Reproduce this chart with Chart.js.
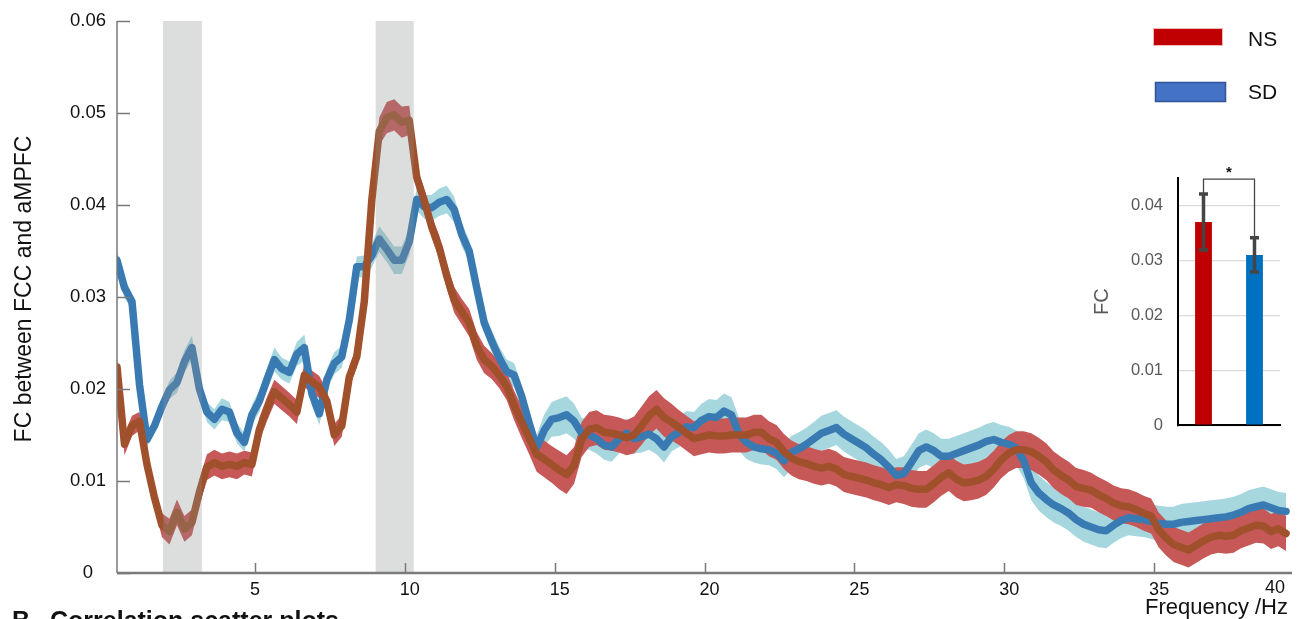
<!DOCTYPE html>
<html>
<head>
<meta charset="utf-8">
<script src="https://cdn.jsdelivr.net/npm/chart.js@4/dist/chart.umd.min.js"></script>
<style>
  html, body { margin: 0; padding: 0; background: #fff; overflow: hidden; }
  #wrap { position: relative; width: 1300px; height: 619px; }
  #main { position: absolute; left: 0; top: 0; }
  #inset { position: absolute; left: 1080px; top: 150px; }
</style>
</head>
<body>
<div id="wrap">
  <canvas id="main" width="1300" height="619"></canvas>
  <canvas id="inset" width="220" height="300"></canvas>
</div>
<script>
// frequency grid: first bin and spacing (Hz)
const F0 = 0.4;
const DF = 0.25;

// mean FC, NS group
const ns = [
  0.0224, 0.014, 0.016, 0.0165, 0.0118, 0.0082, 0.0052, 0.0045, 0.0066, 0.0048,
  0.0055, 0.0088, 0.0115, 0.012, 0.0116, 0.0118, 0.0116, 0.012, 0.0118, 0.0156,
  0.0178, 0.0197, 0.019, 0.0183, 0.0175, 0.0215, 0.0208, 0.0202, 0.0187, 0.015,
  0.016, 0.0213, 0.0235, 0.0295, 0.0405, 0.048, 0.0495, 0.0498, 0.049, 0.0492,
  0.043, 0.0405, 0.0376, 0.0354, 0.0323, 0.0297, 0.0284, 0.0272, 0.0247, 0.0232,
  0.0225, 0.0215, 0.0203, 0.0182, 0.0164, 0.0147, 0.0129, 0.0124, 0.0118, 0.0112,
  0.0107, 0.0117, 0.0145, 0.0156, 0.0158, 0.0153, 0.0152, 0.015, 0.0147, 0.015,
  0.016, 0.0171, 0.0178, 0.0169, 0.0164, 0.0158, 0.0152, 0.0146, 0.0148, 0.015,
  0.0149, 0.0149, 0.015, 0.015, 0.015, 0.0153, 0.0153, 0.0146, 0.0142, 0.0132,
  0.0125, 0.0121, 0.0119, 0.0116, 0.0114, 0.0116, 0.0113, 0.0107, 0.0105, 0.0103,
  0.0101, 0.0098, 0.0096, 0.0093, 0.0096, 0.0095, 0.0092, 0.0091, 0.0091, 0.0097,
  0.0104, 0.0109, 0.0102, 0.0098, 0.0099, 0.0101, 0.0105, 0.0113, 0.0123, 0.013,
  0.0134, 0.0134, 0.0132, 0.0127, 0.0121, 0.0112, 0.0106, 0.0101, 0.0094, 0.0092,
  0.009, 0.0085, 0.0081, 0.0076, 0.0073, 0.0072, 0.0069, 0.0065, 0.0062, 0.0047,
  0.0038, 0.0031, 0.0028, 0.0025, 0.003, 0.0035, 0.0039, 0.0041, 0.004, 0.0041,
  0.0046, 0.0049, 0.0052, 0.0051, 0.0045, 0.0048, 0.0043
];

// mean FC, SD group
const sd = [
  0.034, 0.031, 0.0295, 0.0205, 0.0145, 0.016, 0.0181, 0.0199, 0.0207, 0.023,
  0.0245, 0.02, 0.0175, 0.0167, 0.0178, 0.0175, 0.0152, 0.0142, 0.0172, 0.0187,
  0.021, 0.0232, 0.0222, 0.0218, 0.0238, 0.0245, 0.0195, 0.0173, 0.021, 0.0228,
  0.0235, 0.0275, 0.0333, 0.0333, 0.0345, 0.0363, 0.0352, 0.034, 0.034, 0.036,
  0.0406, 0.0398, 0.0397, 0.0403, 0.0406, 0.0395, 0.0368, 0.035, 0.031, 0.0272,
  0.0252, 0.0234, 0.0219, 0.0215, 0.0192, 0.0163, 0.0136, 0.0155, 0.0167, 0.0169,
  0.0172, 0.0165, 0.0152, 0.015, 0.0146, 0.0139, 0.0137, 0.0146, 0.0152, 0.0146,
  0.0148, 0.0151, 0.0146, 0.0137, 0.0148, 0.0153, 0.0159, 0.0158, 0.0166, 0.017,
  0.0169, 0.0176, 0.0172, 0.0151, 0.0142, 0.0137, 0.0135, 0.0134, 0.013, 0.0122,
  0.0131, 0.0135, 0.014, 0.0146, 0.0152, 0.0155, 0.0158, 0.0151, 0.0146, 0.0141,
  0.0136, 0.0129, 0.0123, 0.0115, 0.0106, 0.0108, 0.012, 0.0133, 0.0137, 0.0133,
  0.0127, 0.0127, 0.013, 0.0133, 0.0136, 0.0139, 0.0143, 0.0145, 0.0142, 0.014,
  0.0136, 0.0122, 0.0098, 0.0087, 0.008, 0.0074, 0.007, 0.0065, 0.0058, 0.0053,
  0.005, 0.0047, 0.0046, 0.0052, 0.0057, 0.006, 0.0059, 0.0058, 0.0056, 0.0054,
  0.0053, 0.0053, 0.0055, 0.0056, 0.0057, 0.0058, 0.0059, 0.006, 0.0061, 0.0063,
  0.0066, 0.007, 0.0072, 0.0074, 0.0071, 0.0068, 0.0067
];

// half width of the shaded error band
const nsErr = [
  0.0010, 0.0012, 0.0011, 0.0010, 0.0011, 0.0012, 0.0013, 0.0014, 0.0014, 0.0014,
  0.0014, 0.0014, 0.0014, 0.0014, 0.0014, 0.0014, 0.0014, 0.0013, 0.0013, 0.0013,
  0.0013, 0.0013, 0.0013, 0.0013, 0.0013, 0.0013, 0.0012, 0.0012, 0.0012, 0.0012,
  0.0012, 0.0012, 0.0012, 0.0012, 0.0013, 0.0015, 0.0017, 0.0017, 0.0017, 0.0016,
  0.0013, 0.0012, 0.0012, 0.0013, 0.0014, 0.0014, 0.0014, 0.0015, 0.0015, 0.0015,
  0.0014, 0.0014, 0.0015, 0.0016, 0.0017, 0.0018, 0.0019, 0.0020, 0.0020, 0.0021,
  0.0021, 0.0020, 0.0019, 0.0019, 0.0019, 0.0019, 0.0019, 0.0019, 0.0019, 0.0020,
  0.0021, 0.0021, 0.0021, 0.0021, 0.0020, 0.0019, 0.0019, 0.0019, 0.0019, 0.0019,
  0.0019, 0.0019, 0.0019, 0.0019, 0.0019, 0.0019, 0.0019, 0.0019, 0.0019, 0.0019,
  0.0019, 0.0019, 0.0019, 0.0019, 0.0019, 0.0019, 0.0019, 0.0019, 0.0019, 0.0019,
  0.0019, 0.0019, 0.0019, 0.0019, 0.0019, 0.0020, 0.0020, 0.0020, 0.0020, 0.0020,
  0.0020, 0.0020, 0.0020, 0.0020, 0.0020, 0.0020, 0.0020, 0.0020, 0.0020, 0.0020,
  0.0020, 0.0020, 0.0020, 0.0020, 0.0020, 0.0020, 0.0020, 0.0020, 0.0020, 0.0020,
  0.0019, 0.0019, 0.0019, 0.0019, 0.0019, 0.0019, 0.0019, 0.0019, 0.0019, 0.0019,
  0.0019, 0.0019, 0.0019, 0.0019, 0.0019, 0.0019, 0.0019, 0.0019, 0.0019, 0.0019,
  0.0019, 0.0019, 0.0019, 0.0019, 0.0019, 0.0019, 0.0019
];

const sdErr = [
  0.0010, 0.0011, 0.0009, 0.0008, 0.0008, 0.0008, 0.0009, 0.0010, 0.0011, 0.0012,
  0.0013, 0.0012, 0.0011, 0.0011, 0.0012, 0.0011, 0.0011, 0.0010, 0.0011, 0.0012,
  0.0012, 0.0013, 0.0012, 0.0012, 0.0013, 0.0014, 0.0013, 0.0012, 0.0012, 0.0012,
  0.0012, 0.0012, 0.0011, 0.0012, 0.0013, 0.0014, 0.0014, 0.0015, 0.0015, 0.0014,
  0.0012, 0.0013, 0.0014, 0.0015, 0.0015, 0.0014, 0.0013, 0.0012, 0.0011, 0.0011,
  0.0012, 0.0012, 0.0013, 0.0013, 0.0012, 0.0012, 0.0014, 0.0017, 0.0019, 0.0020,
  0.0020, 0.0019, 0.0017, 0.0016, 0.0016, 0.0016, 0.0016, 0.0016, 0.0016, 0.0016,
  0.0017, 0.0017, 0.0017, 0.0017, 0.0016, 0.0016, 0.0017, 0.0017, 0.0018, 0.0019,
  0.0019, 0.0019, 0.0019, 0.0018, 0.0018, 0.0017, 0.0017, 0.0017, 0.0017, 0.0018,
  0.0018, 0.0018, 0.0018, 0.0018, 0.0019, 0.0019, 0.0019, 0.0019, 0.0019, 0.0019,
  0.0019, 0.0019, 0.0019, 0.0019, 0.0018, 0.0019, 0.0019, 0.0019, 0.0019, 0.0019,
  0.0019, 0.0019, 0.0019, 0.0019, 0.0019, 0.0019, 0.0019, 0.0019, 0.0019, 0.0019,
  0.0019, 0.0019, 0.0019, 0.0019, 0.0019, 0.0019, 0.0019, 0.0019, 0.0019, 0.0019,
  0.0019, 0.0019, 0.0019, 0.0019, 0.0019, 0.0019, 0.0019, 0.0019, 0.0019, 0.0019,
  0.0019, 0.0019, 0.0020, 0.0020, 0.0020, 0.0020, 0.0020, 0.0020, 0.0020, 0.0020,
  0.0020, 0.0020, 0.0020, 0.0020, 0.0020, 0.0020, 0.0020
];

// frequency windows marked in grey (Hz)
const greyWindows = [[1.93, 3.23], [9.03, 10.3]];

const xTicks = [5, 10, 15, 20, 25, 30, 35];
const yTicks = [0, 0.01, 0.02, 0.03, 0.04, 0.05, 0.06];

// inset bar chart
const insetGroups = ['NS', 'SD'];
const insetMeans = [0.037, 0.031];
const insetLow = [0.0319, 0.0279];
const insetHigh = [0.0421, 0.0341];
const insetTicks = [0, 0.01, 0.02, 0.03, 0.04];
const sigLevel = 0.0448;

const FONT = "'Liberation Sans', Arial, sans-serif";
Chart.defaults.font.family = FONT;

const freqs = ns.map((_, i) => +(F0 + i * DF).toFixed(2));
const pts = (arr, err, sign) => arr.map((v, i) => ({ x: freqs[i], y: v + sign * err[i] }));

const bandStyle = { borderWidth: 0, pointRadius: 0, tension: 0 };
const lineStyle = { borderWidth: 7.5, pointRadius: 0, tension: 0, fill: false,
                    borderJoinStyle: 'round', borderCapStyle: 'round' };

const mainPlugin = {
    id: 'mainExtras',
    afterDatasetsDraw(chart) {
        const { ctx, chartArea: a, scales: { x } } = chart;
        ctx.save();
        ctx.fillStyle = 'rgba(138,141,141,0.3)';
        greyWindows.forEach(([f0, f1]) => {
            const x0 = x.getPixelForValue(f0);
            const x1 = x.getPixelForValue(f1);
            ctx.fillRect(x0, a.top, x1 - x0, a.bottom - a.top);
        });
        ctx.restore();
    },
    afterDraw(chart) {
        const { ctx, chartArea: a, scales: { x, y } } = chart;
        ctx.save();
        // axes with inward ticks
        ctx.strokeStyle = '#7a7a7a';
        ctx.lineWidth = 1.5;
        ctx.beginPath();
        ctx.moveTo(a.left, a.top);
        ctx.lineTo(a.left, a.bottom);
        yTicks.forEach(v => {
            const py = Math.round(y.getPixelForValue(v)) + 0.5;
            ctx.moveTo(a.left, py);
            ctx.lineTo(a.left + 13, py);
        });
        xTicks.forEach(v => {
            const px = Math.round(x.getPixelForValue(v)) + 0.5;
            ctx.moveTo(px, a.bottom);
            ctx.lineTo(px, a.bottom - 10);
        });
        ctx.stroke();
        ctx.lineWidth = 2.5;
        ctx.beginPath();
        ctx.moveTo(a.left, a.bottom);
        ctx.lineTo(a.right, a.bottom);
        ctx.stroke();

        // last tick label sits at the cropped right edge
        ctx.fillStyle = '#111';
        ctx.font = '18px ' + FONT;
        ctx.textAlign = 'left';
        ctx.textBaseline = 'middle';
        ctx.fillText('40', 1265, 588);

        // axis titles
        ctx.font = '22px ' + FONT;
        ctx.textAlign = 'right';
        ctx.textBaseline = 'alphabetic';
        ctx.fillText('Frequency /Hz', 1288, 614);

        ctx.save();
        ctx.translate(25, 289);
        ctx.rotate(-Math.PI / 2);
        ctx.font = '23px ' + FONT;
        ctx.textAlign = 'center';
        ctx.textBaseline = 'middle';
        ctx.fillText('FC between FCC and aMPFC', 0, 0);
        ctx.restore();

        // legend
        ctx.fillStyle = '#c00000';
        ctx.fillRect(1153, 28, 70, 18);
        ctx.strokeStyle = '#f2b8b8';
        ctx.lineWidth = 1;
        ctx.strokeRect(1153.5, 28.5, 69, 17);
        ctx.fillStyle = '#4472c4';
        ctx.fillRect(1155, 82, 71, 20);
        ctx.strokeStyle = '#2f5597';
        ctx.lineWidth = 1.5;
        ctx.strokeRect(1155.5, 82.5, 70, 19);
        ctx.fillStyle = '#111';
        ctx.font = '21px ' + FONT;
        ctx.textAlign = 'left';
        ctx.textBaseline = 'middle';
        ctx.fillText('NS', 1248, 40);
        ctx.fillText('SD', 1248, 93);

        // next panel caption, cropped by the bottom edge
        ctx.font = 'bold 25px ' + FONT;
        ctx.textBaseline = 'alphabetic';
        ctx.fillText('B', 12, 629);
        ctx.fillText('Correlation scatter plots', 50, 629);
        ctx.restore();
    }
};

new Chart(document.getElementById('main'), {
    type: 'line',
    data: {
        datasets: [
            { data: pts(sd, sdErr, 1), fill: '+1', backgroundColor: '#a6d6de', order: 4, ...bandStyle },
            { data: pts(sd, sdErr, -1), fill: false, order: 4, ...bandStyle },
            { data: pts(ns, nsErr, 1), fill: '+1', backgroundColor: '#c75858', order: 3, ...bandStyle },
            { data: pts(ns, nsErr, -1), fill: false, order: 3, ...bandStyle },
            { label: 'SD', data: pts(sd, sdErr, 0), borderColor: '#3a7ab2', order: 2, ...lineStyle },
            { label: 'NS', data: pts(ns, nsErr, 0), borderColor: '#a0512c', order: 1, ...lineStyle }
        ]
    },
    options: {
        responsive: false,
        animation: false,
        devicePixelRatio: 1,
        layout: { padding: { top: 21, right: 8, bottom: 0, left: 0 } },
        plugins: { legend: { display: false }, tooltip: { enabled: false } },
        scales: {
            x: {
                type: 'linear',
                min: 0.4,
                max: 39.6,
                afterBuildTicks: s => { s.ticks = xTicks.map(v => ({ value: v })); },
                afterFit: s => { s.height = 46; },
                grid: { display: false },
                border: { display: false },
                ticks: {
                    color: '#111', font: { size: 18 }, padding: -2,
                    align: 'start', labelOffset: -5, maxRotation: 0, autoSkip: false,
                    callback: v => String(v)
                }
            },
            y: {
                min: 0,
                max: 0.06,
                afterBuildTicks: s => { s.ticks = yTicks.map(v => ({ value: v })); },
                afterFit: s => { s.width = 117; },
                grid: { display: false },
                border: { display: false },
                ticks: {
                    color: '#111', font: { size: 18.5 }, padding: 3, crossAlign: 'center',
                    callback: v => (v === 0 ? '0' : v.toFixed(2))
                }
            }
        }
    },
    plugins: [mainPlugin]
});

const insetPlugin = {
    id: 'insetExtras',
    afterDatasetsDraw(chart) {
        const { ctx, scales: { y } } = chart;
        const bars = chart.getDatasetMeta(0).data;
        ctx.save();
        ctx.strokeStyle = '#454545';
        ctx.lineWidth = 3.5;
        const tops = [];
        bars.forEach((bar, i) => {
            const lo = y.getPixelForValue(insetLow[i]);
            const hi = y.getPixelForValue(insetHigh[i]);
            tops.push(hi);
            ctx.beginPath();
            ctx.moveTo(bar.x, lo);
            ctx.lineTo(bar.x, hi);
            ctx.moveTo(bar.x - 4.5, hi);
            ctx.lineTo(bar.x + 4.5, hi);
            ctx.moveTo(bar.x - 4.5, lo);
            ctx.lineTo(bar.x + 4.5, lo);
            ctx.stroke();
        });
        const yb = y.getPixelForValue(sigLevel);
        ctx.lineWidth = 1.3;
        ctx.beginPath();
        ctx.moveTo(bars[0].x, tops[0]);
        ctx.lineTo(bars[0].x, yb);
        ctx.lineTo(bars[1].x, yb);
        ctx.lineTo(bars[1].x, tops[1]);
        ctx.stroke();
        ctx.fillStyle = '#111';
        ctx.font = 'bold 15px ' + FONT;
        ctx.textAlign = 'center';
        ctx.textBaseline = 'middle';
        ctx.fillText('*', (bars[0].x + bars[1].x) / 2, yb - 6);
        ctx.restore();
    }
};

new Chart(document.getElementById('inset'), {
    type: 'bar',
    data: {
        labels: insetGroups,
        datasets: [{
            data: insetMeans,
            backgroundColor: ['#c00000', '#0070c0'],
            barPercentage: 0.33,
            categoryPercentage: 1
        }]
    },
    options: {
        responsive: false,
        animation: false,
        devicePixelRatio: 1,
        layout: { padding: { top: 28, right: 20, bottom: 8, left: 0 } },
        plugins: { legend: { display: false }, tooltip: { enabled: false } },
        scales: {
            x: {
                ticks: { display: false },
                grid: { display: false },
                border: { color: '#000', width: 2 },
                afterFit: s => { s.height = 0; }
            },
            y: {
                min: 0,
                max: 0.045,
                afterBuildTicks: s => { s.ticks = insetTicks.map(v => ({ value: v })); },
                afterFit: s => { s.width = 98; },
                grid: { color: '#dadada', lineWidth: 1.2, drawTicks: false },
                border: { color: '#000', width: 2 },
                ticks: {
                    color: '#595959', font: { size: 16.5 }, padding: 15,
                    callback: v => (v === 0 ? '0' : v.toFixed(2))
                },
                title: {
                    display: true, text: 'FC', color: '#595959',
                    font: { size: 20 }, padding: { top: 10, bottom: 0 }
                }
            }
        }
    },
    plugins: [insetPlugin]
});
</script>
</body>
</html>
